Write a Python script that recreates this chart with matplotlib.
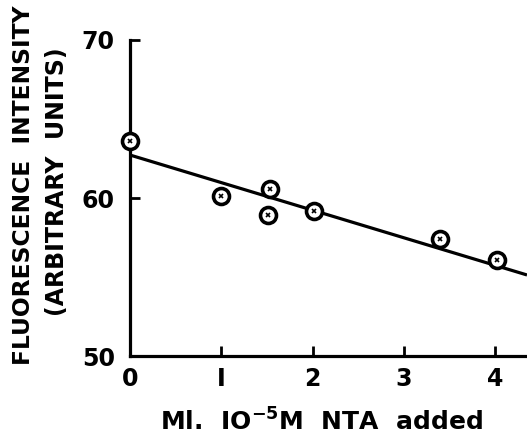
import numpy as np
import matplotlib
matplotlib.use('agg')
import matplotlib.pyplot as plt

# NTA titration: fluorescence vs volume of 1e-5 M NTA added
nta_ml = [0.0, 1.0, 1.53, 1.51, 2.02, 3.40, 4.02]
fluorescence = [63.6, 60.1, 60.55, 58.9, 59.2, 57.4, 56.1]

# straight line drawn through the points
fit_intercept = 62.72
fit_slope = -1.745

x_ticks = [0, 1, 2, 3, 4]
x_tick_labels = ['0', 'I', '2', '3', '4']
y_ticks = [50, 60, 70]

plt.rcParams['font.family'] = ['DejaVu Sans']
plt.rcParams['font.weight'] = 'bold'

fig = plt.figure(figsize=(5.27, 4.41), dpi=100)
ax = fig.add_axes([0.2467, 0.1927, 0.7533, 0.7166])

xs = np.array([0, 4.35])
ax.plot(xs, fit_intercept + fit_slope * xs, color='black', lw=2.3,
        solid_capstyle='butt', clip_on=False)

ax.plot(nta_ml, fluorescence, 'o', ms=11.5, mfc='white', mec='black',
        mew=2.6, clip_on=False, zorder=3)
ax.plot(nta_ml, fluorescence, 'x', ms=3.5, mec='black', mew=1.2,
        clip_on=False, zorder=4)

ax.set_xlim(0, 4.35)
ax.set_ylim(50, 70)
ax.set_xticks(x_ticks)
ax.set_xticklabels(x_tick_labels)
ax.set_yticks(y_ticks)

for side in ['top', 'right']:
    ax.spines[side].set_visible(False)
for side in ['left', 'bottom']:
    ax.spines[side].set_linewidth(2.3)

ax.tick_params(axis='both', direction='in', length=7, width=2,
               labelsize=17)
ax.tick_params(axis='x', pad=8)
ax.tick_params(axis='y', pad=11)

fig.text(0.044, 0.58, 'FLUORESCENCE  INTENSITY', rotation=90,
         ha='center', va='center', fontsize=16.8, fontweight='bold')
fig.text(0.108, 0.587, '(ARBITRARY  UNITS)', rotation=90,
         ha='center', va='center', fontsize=17, fontweight='bold')

fig.text(0.61, 0.042, r'Ml.  IO$^{\mathbf{-5}}$M  NTA  added',
         ha='center', va='center', fontsize=18, fontweight='bold')

fig.savefig('out.png', dpi=100)
plt.close(fig)
